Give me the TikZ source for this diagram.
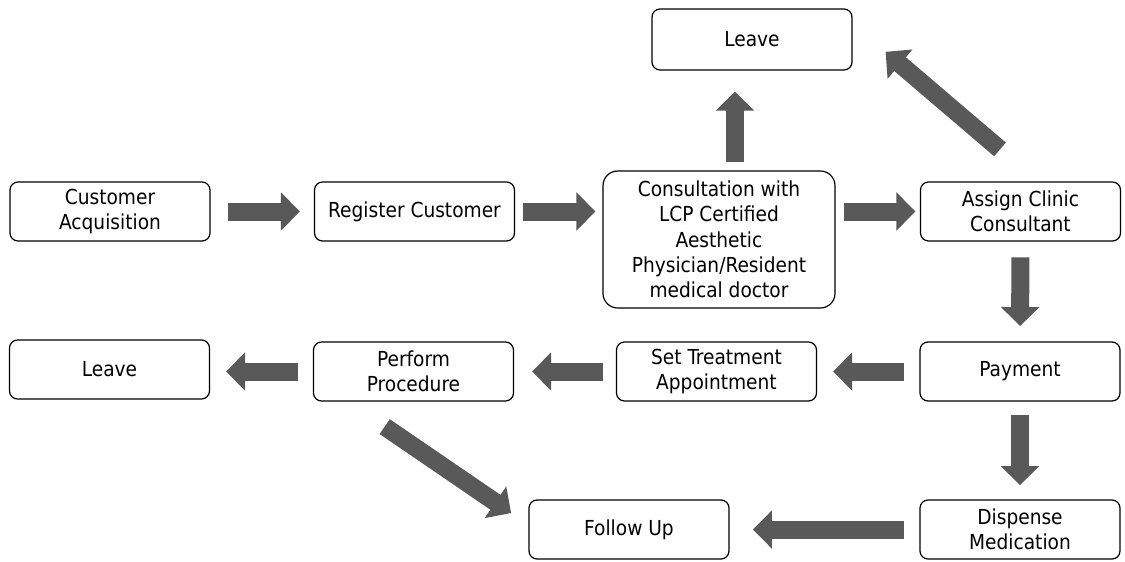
\documentclass[tikz,border=0pt]{standalone}
\usepackage{fontspec}
\setmainfont{DejaVu Sans Condensed}
\usetikzlibrary{arrows.meta}
\definecolor{arrowgray}{RGB}{89,89,89}
\tikzset{
  stepbox/.style={draw, rounded corners=6pt, line width=0.9pt, minimum width=150pt,
    minimum height=44.25pt, align=center, inner sep=2pt,
    font=\fontsize{15.5}{19}\selectfont},
  blockarrow/.style={draw=arrowgray, line width=13.5pt,
    -{Triangle[length=14.25pt,width=28pt]}}
}
\begin{document}
\begin{tikzpicture}[x=0.75pt,y=0.75pt,yscale=-1,xscale=1]
\useasboundingbox (0,0) rectangle (1125,561);

% Boxes
\node[stepbox] (acq) at (110,211.5) {Customer\\Acquisition};
\node[stepbox] (reg) at (414.5,211.5) {Register Customer};
\node[stepbox, rounded corners=11pt, minimum width=174pt, minimum height=102.75pt] (cons) at (719,239.5) {Consultation with\\LCP Certified\\Aesthetic\\Physician/Resident\\medical doctor};
\node[stepbox, minimum height=45.75pt] (leavetop) at (752,39.5) {Leave};
\node[stepbox] (clinic) at (1020.5,211.5) {Assign Clinic\\Consultant};
\node[stepbox] (pay) at (1020,371.5) {Payment};
\node[stepbox] (appt) at (716.5,371.5) {Set Treatment\\Appointment};
\node[stepbox] (proc) at (413.5,371.5) {Perform\\Procedure};
\node[stepbox] (leaveleft) at (109.5,369.5) {Leave};
\node[stepbox] (follow) at (629,529.5) {Follow Up};
\node[stepbox] (meds) at (1020,529.5) {Dispense\\Medication};

% Arrows
\draw[blockarrow, shorten <=12.75pt, shorten >=10.5pt] (acq.east) -- (reg.west);
\draw[blockarrow, shorten <=6pt, shorten >=5.25pt] (reg.east) -- (reg.east -| cons.west);
\draw[blockarrow, shorten <=6pt, shorten >=15.75pt] ([xshift=12pt]cons.north) -- ([xshift=12pt]cons.north |- leavetop.south);
\draw[blockarrow, shorten <=6pt, shorten >=3.4pt] (cons.east |- clinic.west) -- (clinic.west);
\draw[blockarrow] ([shift={(-20.5,-32)}]clinic.north) -- ([shift={(33,12.3)}]leavetop.east);
\draw[blockarrow, shorten <=11.8pt, shorten >=11.5pt] (clinic.south) -- (pay.north);
\draw[blockarrow, shorten <=11.25pt, shorten >=12pt] (pay.west) -- (appt.east);
\draw[blockarrow, shorten <=9.75pt, shorten >=13.5pt] (appt.west) -- (proc.east);
\draw[blockarrow, shorten <=11.25pt, shorten >=12pt] (proc.west) -- (proc.west -| leaveleft.east);
\draw[blockarrow] ([shift={(-28.8,25)}]proc.south) -- ([shift={(-17.3,-16.5)}]follow.west);
\draw[blockarrow, shorten <=10pt, shorten >=10.7pt] (pay.south) -- (meds.north);
\draw[blockarrow, shorten <=11.25pt, shorten >=17.5pt] (meds.west) -- (follow.east);

\end{tikzpicture}
\end{document}
